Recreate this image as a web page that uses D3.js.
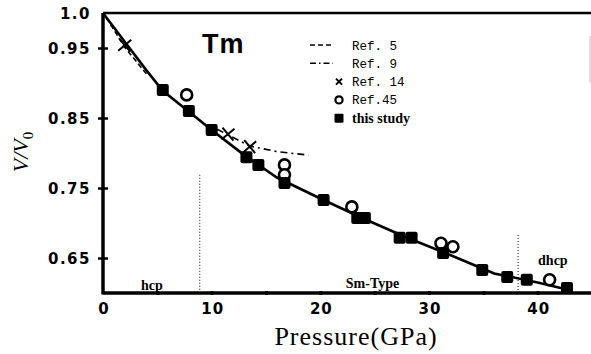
<!DOCTYPE html>
<html>
<head>
<meta charset="utf-8">
<script src="https://cdn.jsdelivr.net/npm/d3@7"></script>
<style>
  body { margin: 0; background: #fff; }
  svg { display: block; }
</style>
</head>
<body>
<div id="chart"></div>
<script>
// this study (filled squares): [pressure GPa, V/V0]
var thisStudy = [
  [5.5, 0.890], [7.9, 0.860], [10.0, 0.833], [13.2, 0.794], [14.3, 0.783],
  [16.7, 0.757], [20.3, 0.733], [23.4, 0.707], [24.1, 0.707], [27.3, 0.679],
  [28.4, 0.679], [31.3, 0.657], [34.9, 0.633], [37.2, 0.623], [39.0, 0.619],
  [42.7, 0.607]
];
// Ref. 45 (open circles)
var ref45 = [
  [7.7, 0.883], [16.7, 0.783], [16.7, 0.769], [22.9, 0.723],
  [31.1, 0.671], [32.2, 0.666], [41.1, 0.619]
];
// Ref. 14 (crosses)
var ref14 = [[2.0, 0.954], [11.5, 0.827], [13.5, 0.809]];
// Ref. 5 (dashed curve)
var ref5 = [[0.3, 0.993], [1.0, 0.976], [2.0, 0.951], [3.0, 0.932], [4.0, 0.913]];
// Ref. 9 (dash-dot curve)
var ref9 = [[10.5, 0.834], [13.5, 0.810], [16.0, 0.802], [18.9, 0.797]];
// fitted curve of this study
var fitCurve = [
  [0, 1.0], [2, 0.959], [4, 0.918], [5.5, 0.889], [8, 0.858], [10, 0.833],
  [13, 0.797], [16, 0.765], [20, 0.735], [24, 0.706], [28, 0.679],
  [32, 0.654], [36, 0.628], [40, 0.615], [42.7, 0.605]
];
// phase boundaries and labels
var boundaries = [[8.9, 0.769], [38.2, 0.683]];
var phases = [["hcp", 4.5, 0.604], ["Sm-Type", 24.8, 0.607], ["dhcp", 41.4, 0.640]];

var yTicks = [1.0, 0.95, 0.85, 0.75, 0.65];
var xTicks = [0, 10, 20, 30, 40];
var xMinor = [5, 10, 15, 20, 25, 30, 35, 40];

var legendItems = ["Ref. 5", "Ref. 9", "Ref. 14", "Ref.45", "this study"];

var width = 591, height = 354;
var svg = d3.select("#chart").append("svg")
    .attr("width", width)
    .attr("height", height);

var x = d3.scaleLinear().domain([0, 45]).range([103, 592]);
var y = d3.scaleLinear().domain([0.6, 1.0]).range([293, 13]);

var line = d3.line()
    .x(function (d) { return x(d[0]); })
    .y(function (d) { return y(d[1]); });

// frame: top border and faint right edge
svg.append("line")
    .attr("x1", x(0)).attr("x2", width)
    .attr("y1", y(1.0)).attr("y2", y(1.0))
    .attr("stroke", "#000").attr("stroke-width", 2.5);
svg.append("line")
    .attr("x1", 590).attr("x2", 590)
    .attr("y1", 36).attr("y2", 82)
    .attr("stroke", "#bbb").attr("stroke-width", 1);

// axes
var xAxis = d3.axisBottom(x).tickValues(xMinor).tickSize(0).tickFormat("");
var gx = svg.append("g").attr("transform", "translate(0," + y(0.6) + ")").call(xAxis);
gx.select(".domain").attr("stroke-width", 3.5).attr("d", "M" + x(0) + ",0H" + width);
gx.selectAll(".tick").append("line")
    .attr("y1", -2).attr("y2", 2)
    .attr("stroke", "#000").attr("stroke-width", 3);

var yAxis = d3.axisLeft(y).tickValues(yTicks).tickSize(0).tickFormat("");
var gy = svg.append("g").attr("transform", "translate(" + x(0) + ",0)").call(yAxis);
gy.select(".domain").attr("stroke-width", 3.5).attr("d", "M0," + y(1.0) + "V" + (y(0.6) + 1.5));
gy.selectAll(".tick").filter(function (d) { return d < 1; }).append("line")
    .attr("x1", -5).attr("x2", 5)
    .attr("stroke", "#000").attr("stroke-width", 2.5);

// tick labels
svg.selectAll(".ylab").data(yTicks).enter().append("text")
    .attr("class", "ylab")
    .attr("x", 91)
    .attr("y", function (d) { return y(d) + 5.5; })
    .attr("text-anchor", "end")
    .style("font-family", "DejaVu Sans")
    .style("font-weight", "bold")
    .style("font-size", "15px")
    .style("letter-spacing", "1.5px")
    .text(function (d) { return d === 1 ? "1.0" : d.toString(); });

svg.selectAll(".xlab").data(xTicks).enter().append("text")
    .attr("class", "xlab")
    .attr("x", function (d) { return x(d) + 1; })
    .attr("y", 314)
    .attr("text-anchor", "middle")
    .style("font-family", "DejaVu Sans")
    .style("font-weight", "bold")
    .style("font-size", "15px")
    .style("letter-spacing", "1px")
    .text(function (d) { return d; });

// axis titles
svg.append("text")
    .attr("x", 356).attr("y", 345)
    .attr("text-anchor", "middle")
    .style("font-family", "Liberation Serif")
    .style("font-size", "26px")
    .style("letter-spacing", "1px")
    .text("Pressure(GPa)");

var yt = svg.append("text")
    .attr("transform", "translate(28,152) rotate(-90)")
    .attr("text-anchor", "middle")
    .style("font-family", "Liberation Serif")
    .style("font-style", "italic")
    .style("font-size", "22px");
yt.append("tspan").text("V/V");
yt.append("tspan").attr("dy", 5).style("font-size", "15px").style("font-style", "normal").text("0");

// element label
svg.append("text")
    .attr("x", 202).attr("y", 53)
    .style("font-family", "Liberation Sans")
    .style("font-weight", "bold")
    .style("font-size", "27px")
    .style("letter-spacing", "1px")
    .text("Tm");

// phase boundaries
svg.selectAll(".bound").data(boundaries).enter().append("line")
    .attr("class", "bound")
    .attr("x1", function (d) { return x(d[0]); })
    .attr("x2", function (d) { return x(d[0]); })
    .attr("y1", function (d) { return y(d[1]); })
    .attr("y2", y(0.6) - 2)
    .attr("stroke", "#333").attr("stroke-width", 1.2)
    .attr("stroke-dasharray", "1,2");

svg.selectAll(".phase").data(phases).enter().append("text")
    .attr("class", "phase")
    .attr("x", function (d) { return x(d[1]); })
    .attr("y", function (d) { return y(d[2]); })
    .attr("text-anchor", "middle")
    .style("font-family", "Liberation Serif")
    .style("font-weight", "bold")
    .style("font-size", "14px")
    .text(function (d) { return d[0]; });

// curves
svg.append("path").datum(ref5).attr("d", line)
    .attr("fill", "none").attr("stroke", "#000").attr("stroke-width", 1.6)
    .attr("stroke-dasharray", "5,3");
svg.append("path").datum(ref9).attr("d", line)
    .attr("fill", "none").attr("stroke", "#000").attr("stroke-width", 1.6)
    .attr("stroke-dasharray", "7,4,2,4");
svg.append("path").datum(fitCurve).attr("d", line)
    .attr("fill", "none").attr("stroke", "#000").attr("stroke-width", 2.6);

// crosses
svg.selectAll(".x14").data(ref14).enter().append("path")
    .attr("class", "x14")
    .attr("d", "M-6,-6L6,6M-6,6L6,-6")
    .attr("transform", function (d) { return "translate(" + x(d[0]) + "," + y(d[1]) + ") rotate(5)"; })
    .attr("stroke", "#000").attr("stroke-width", 2);

// circles
svg.selectAll(".c45").data(ref45).enter().append("circle")
    .attr("class", "c45")
    .attr("cx", function (d) { return x(d[0]); })
    .attr("cy", function (d) { return y(d[1]); })
    .attr("r", 5.5)
    .attr("fill", "#fff").attr("stroke", "#000").attr("stroke-width", 2.6);

// squares
svg.selectAll(".sq").data(thisStudy).enter().append("rect")
    .attr("class", "sq")
    .attr("x", function (d) { return x(d[0]) - 6; })
    .attr("y", function (d) { return y(d[1]) - 6; })
    .attr("width", 12).attr("height", 12)
    .attr("rx", 2)
    .attr("fill", "#000");

// legend
var leg = svg.append("g");
var rowY = function (i) { return 45 + i * 18.3; };
leg.selectAll("text").data(legendItems).enter().append("text")
    .attr("x", 352)
    .attr("y", function (d, i) { return rowY(i) + 4.5; })
    .style("font-family", function (d, i) { return i < 4 ? "Liberation Mono" : "Liberation Serif"; })
    .style("font-weight", function (d, i) { return i < 4 ? "normal" : "bold"; })
    .style("font-size", function (d, i) { return i < 4 ? "12.5px" : "14px"; })
    .text(function (d) { return d; });
leg.append("line").attr("x1", 310).attr("x2", 333).attr("y1", rowY(0)).attr("y2", rowY(0))
    .attr("stroke", "#000").attr("stroke-width", 1.6).attr("stroke-dasharray", "5,3");
leg.append("line").attr("x1", 310).attr("x2", 333).attr("y1", rowY(1)).attr("y2", rowY(1))
    .attr("stroke", "#000").attr("stroke-width", 1.6).attr("stroke-dasharray", "6,3,1.5,3");
leg.append("path").attr("d", "M-3,-3L3,3M-3,3L3,-3")
    .attr("transform", "translate(339," + rowY(2) + ")")
    .attr("stroke", "#000").attr("stroke-width", 2);
leg.append("circle").attr("cx", 339).attr("cy", rowY(3)).attr("r", 3.6)
    .attr("fill", "#fff").attr("stroke", "#000").attr("stroke-width", 2.2);
leg.append("rect").attr("x", 334.5).attr("y", rowY(4) - 4.5).attr("width", 9).attr("height", 9)
    .attr("rx", 1).attr("fill", "#000");
</script>
</body>
</html>
